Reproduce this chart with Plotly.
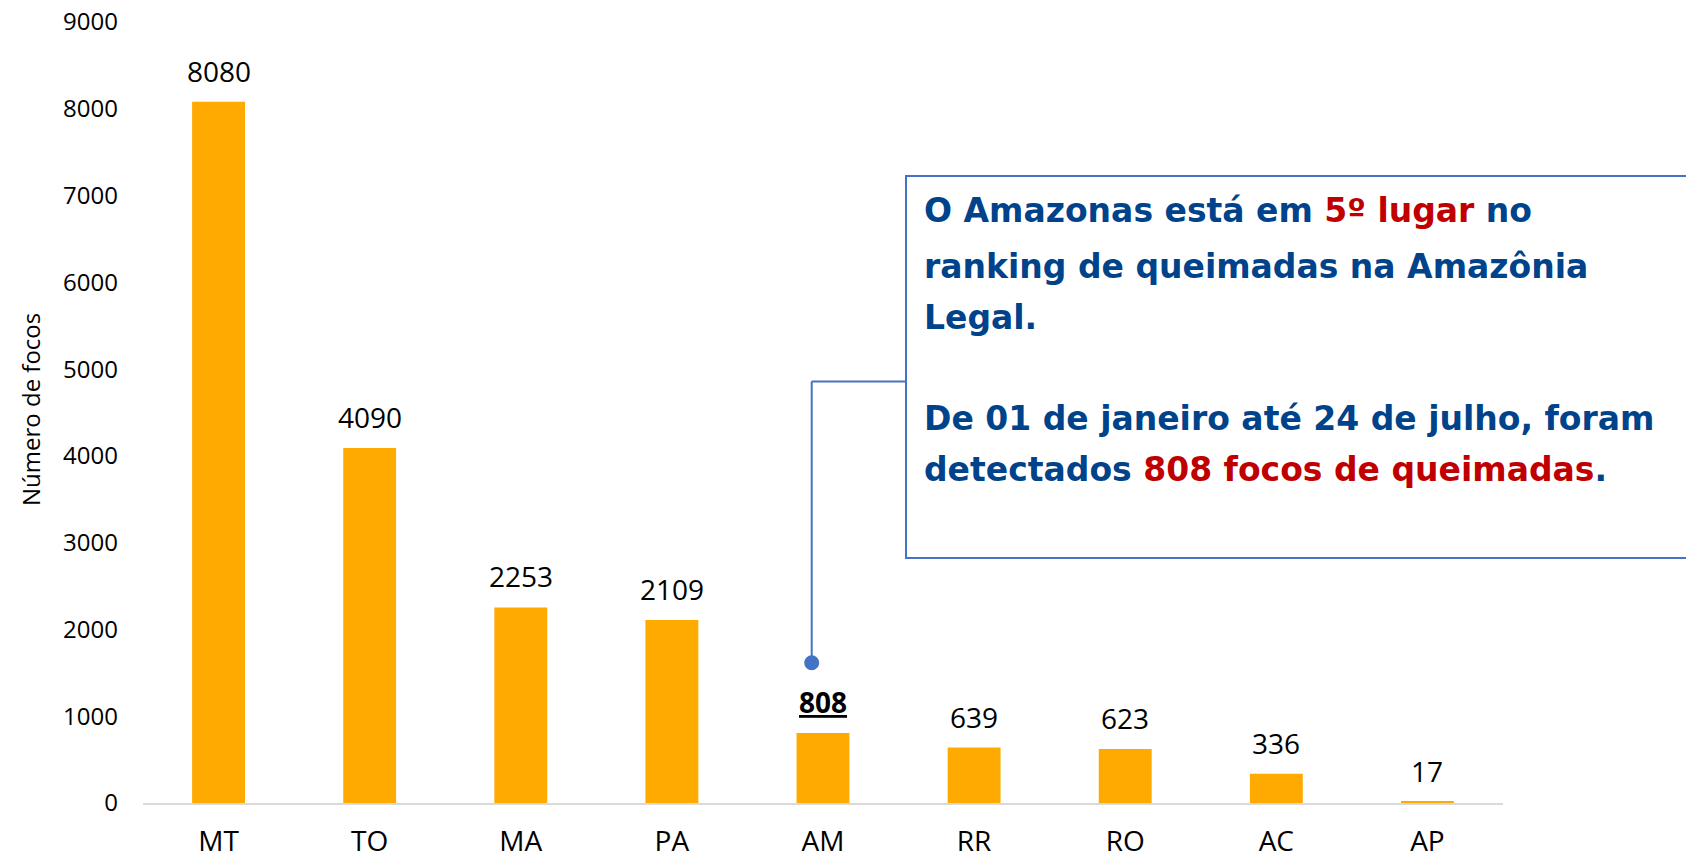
import plotly.graph_objects as go

# ---- data ----
states = ["MT", "TO", "MA", "PA", "AM", "RR", "RO", "AC", "AP"]
focos = [8080, 4090, 2253, 2109, 808, 639, 623, 336, 17]
highlight = "AM"
y_ticks = [0, 1000, 2000, 3000, 4000, 5000, 6000, 7000, 8000, 9000]
y_title = "Número de focos"
note_lines = [
    "O Amazonas está em <span style='color:#C00000'>5º lugar</span> no",
    "ranking de queimadas na Amazônia",
    "Legal.",
    "De 01 de janeiro até 24 de julho, foram",
    "detectados <span style='color:#C00000'>808 focos de queimadas</span>.",
]

# ---- layout geometry (pixels) ----
W, H = 1686, 858
L, R, T, B = 143, 183, 22, 55
PW, PH = W - L - R, H - T - B


def px_x(x):
    return (x - L) / PW


def px_y(y):
    return (H - B - y) / PH


BAR_COLOR = "#FFAA00"
BLUE = "#4472C4"
TEXT_BLUE = "#00438A"
FONT = "Open Sans"

fig = go.Figure()
fig.add_trace(
    go.Bar(
        x=states,
        y=focos,
        marker=dict(color=BAR_COLOR, line=dict(width=0)),
        hoverinfo="x+y",
        showlegend=False,
    )
)

annotations = []
# data labels
for s, v in zip(states, focos):
    label = f"<b><u>{v}</u></b>" if s == highlight else str(v)
    annotations.append(
        dict(
            x=s, y=v, xref="x", yref="y", text=label, showarrow=False,
            yanchor="middle", yshift=31,
            font=dict(family=FONT, size=28, color="#000000"),
        )
    )

# y-axis title
annotations.append(
    dict(
        x=px_x(30), y=px_y(410), xref="paper", yref="paper", text=y_title,
        showarrow=False, textangle=-90, xanchor="center", yanchor="middle",
        font=dict(family=FONT, size=24, color="#000000"),
    )
)

# callout text lines
line_centers = [210, 266, 317, 418, 469]
for txt, yc in zip(note_lines, line_centers):
    annotations.append(
        dict(
            x=px_x(922), y=px_y(yc), xref="paper", yref="paper",
            text=f"<b>{txt}</b>", showarrow=False, xanchor="left", yanchor="middle",
            font=dict(family="DejaVu Sans", size=33, color=TEXT_BLUE),
        )
    )

shapes = [
    # callout box
    dict(type="rect", xref="paper", yref="paper",
         x0=px_x(906), x1=px_x(1720), y0=px_y(558), y1=px_y(176),
         line=dict(color=BLUE, width=2), fillcolor="rgba(0,0,0,0)", layer="above"),
    # connector
    dict(type="line", xref="paper", yref="paper",
         x0=px_x(906), x1=px_x(811.7), y0=px_y(381.5), y1=px_y(381.5),
         line=dict(color=BLUE, width=2)),
    dict(type="line", xref="paper", yref="paper",
         x0=px_x(811.7), x1=px_x(811.7), y0=px_y(381.5), y1=px_y(662.7),
         line=dict(color=BLUE, width=2)),
    dict(type="circle", xref="paper", yref="paper",
         x0=px_x(811.7 - 7.5), x1=px_x(811.7 + 7.5),
         y0=px_y(662.7 + 7.5), y1=px_y(662.7 - 7.5),
         line=dict(color=BLUE, width=0), fillcolor=BLUE),
]

fig.update_layout(
    width=W, height=H,
    margin=dict(l=L, r=R, t=T, b=B, pad=0, autoexpand=False),
    paper_bgcolor="white", plot_bgcolor="white",
    bargap=0.65,
    showlegend=False,
    annotations=annotations,
    shapes=shapes,
    xaxis=dict(
        showgrid=False, showline=True, linecolor="#D9D9D9", linewidth=2,
        ticks="", tickfont=dict(family=FONT, size=28, color="#000000"),
        ticklabelstandoff=12, zeroline=False, automargin=False,
    ),
    yaxis=dict(
        range=[0, 9000], tickvals=y_ticks, showgrid=False, showline=False,
        zeroline=False, ticks="", tickfont=dict(family=FONT, size=24, color="#000000"),
        ticklabelstandoff=24, automargin=False,
    ),
)

fig.write_html(
    "out.html",
    config={"displayModeBar": False},
    post_script="document.body.style.margin='0';document.body.style.overflow='hidden';",
)
